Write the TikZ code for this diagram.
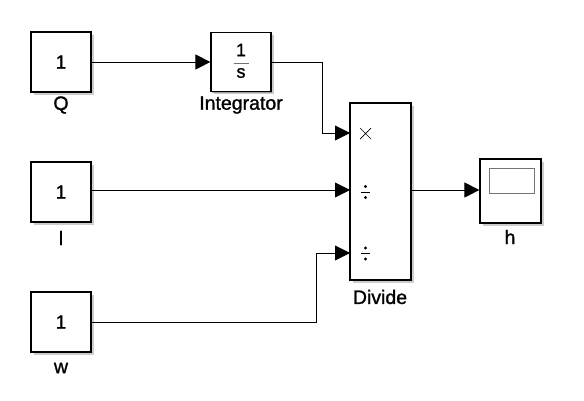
\documentclass[tikz,border=0pt]{standalone}
\usepackage{fontspec}
\setmainfont{Liberation Sans}[RawFeature={embolden=1.2}]
\usetikzlibrary{arrows.meta,shadows}
\begin{document}
\begin{tikzpicture}[x=1pt,y=-1pt,
  blk/.style={draw,line width=1.2pt,fill=white,inner sep=0pt,
    general shadow={shadow xshift=2.5pt,shadow yshift=-2.5pt,fill=black!20},
    drop shadow={shadow xshift=1.3pt,shadow yshift=-1.3pt,fill=black!45,opacity=0.7},
    font=\fontsize{19}{19}\selectfont},
  lbl/.style={font=\fontsize{19.5}{19.5}\selectfont,inner sep=0pt},
  sig/.style={line width=0.9pt,-{Triangle[length=15pt,width=15pt]}},
  dot/.style={fill,circle,inner sep=0pt,minimum size=3.4pt}]
\useasboundingbox (0,0) rectangle (584,400);
% source constants
\node[blk,minimum width=60pt,minimum height=60pt] (Q) at (61,62) {1};
\node[blk,minimum width=60pt,minimum height=60pt] (L) at (61,192) {1};
\node[blk,minimum width=60pt,minimum height=60pt] (W) at (61,322) {1};
\node[lbl] at (61,105) {Q};
\node[lbl] at (61,238) {l};
\node[lbl] at (61,368) {w};
% integrator
\node[blk,minimum width=60pt,minimum height=59pt] (I) at (241,62) {};
\node[inner sep=0pt,font=\fontsize{18}{18}\selectfont] at (241,50) {1};
\draw[black!55,line width=0.9pt] (233.5,63) -- (248.5,63);
\node[inner sep=0pt,font=\fontsize{18}{18}\selectfont] at (241,73) {s};
\node[lbl] at (241,105) {Integrator};
% divide block
\node[blk,minimum width=61pt,minimum height=177pt] (D) at (380.5,191.5) {};
\node[lbl] at (380,297) {Divide};
\coordinate (D1) at (350,133);
\coordinate (D2) at (350,190);
\coordinate (D3) at (350,253);
\draw[line width=0.7pt] (360,128) -- (371,139) (360,139) -- (371,128);
\draw[line width=1pt] (361,192) -- (370,192);
\node[dot] at (365.5,186.5) {};
\node[dot] at (365.5,197.5) {};
\draw[line width=1pt] (361,253.5) -- (370,253.5);
\node[dot] at (365.5,248) {};
\node[dot] at (365.5,259) {};
% scope
\node[blk,minimum width=61pt,minimum height=64pt] (H) at (510.5,191) {};
\draw[black!55,line width=1pt] (489,168) rectangle (534,193);
\node[lbl] at (510,237) {h};
% signal lines
\draw[sig] (Q.east) -- (I.west);
\draw[sig] (I.east) -- (322,62) |- (D1);
\draw[sig] (L.east |- D2) -- (D2);
\draw[sig] (W.east) -- (316,322) |- (D3);
\draw[sig] (D.east |- D2) -- (H.west |- D2);
\end{tikzpicture}
\end{document}
